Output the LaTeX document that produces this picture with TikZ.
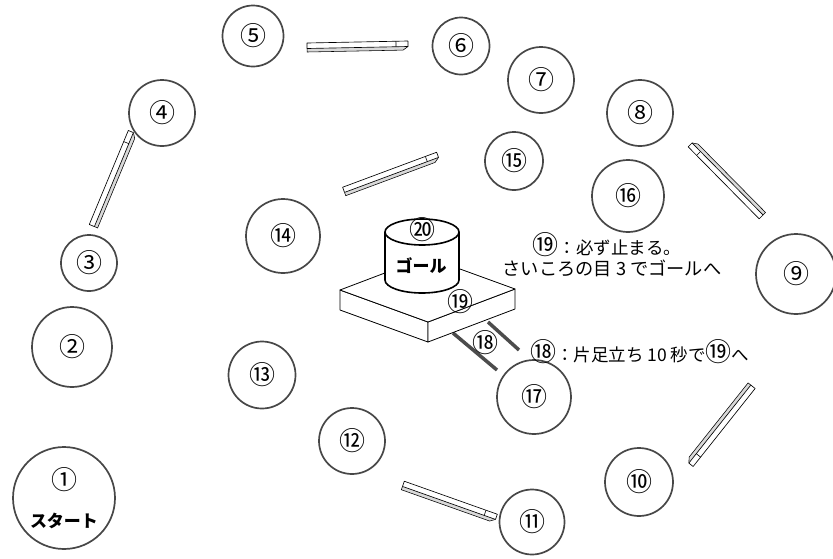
\documentclass[tikz,border=0pt]{standalone}
\usepackage{fontspec}
\newfontfamily\cjk{Noto Sans CJK JP}
\usetikzlibrary{calc}
\newcommand\cn[1]{{\fontsize{26}{26}\selectfont #1}}
\tikzset{
  circ/.style={circle, draw=black!72, line width=1.7pt, inner sep=0pt, font=\cjk\fontsize{26}{26}\selectfont},
  lbl/.style={font=\cjk\fontsize{17.5}{19}\selectfont, inner sep=0pt},
  edge/.style={line width=0.8pt, black},
  gbar/.style={line width=3.5pt, black!70},
}
\newcommand\beam[2]{%
  \coordinate (bA) at #1; \coordinate (bB) at #2;
  \coordinate (p1) at ($(bA)!4pt!90:(bB)$);
  \coordinate (p2) at ($(bA)!1.5pt!-90:(bB)$);
  \coordinate (p3) at ($(bA)!5pt!-90:(bB)$);
  \coordinate (q1) at ($(bB)!4pt!-90:(bA)$);
  \coordinate (q2) at ($(bB)!1.5pt!90:(bA)$);
  \coordinate (q3) at ($(bB)!5pt!90:(bA)$);
  \fill[black!15] (p2) -- (q2) -- ($(q3)!5pt!(p3)$) -- (p3) -- cycle;
  \draw[line width=0.55pt] (p2) -- (p3) -- ($(q3)!5pt!(p3)$) -- (q2);
  \draw[line width=0.65pt, fill=white, line join=round] (p1) -- (q1) -- (q2) -- (p2) -- cycle;
  \draw[line width=0.6pt] ($(q1)!12pt!(p1)$) -- ($(q2)!12pt!(p2)$);
}
\begin{document}
\begin{tikzpicture}[x=1pt, y=-1pt]
\useasboundingbox (0,0) rectangle (833,558);
\fill[white] (0,0) rectangle (833,558);

% circles
\node[circ, minimum size=102pt] (c1) at (64,498) {};
\node[font=\cjk\fontsize{26}{26}\selectfont, inner sep=0pt] (n1) at (64,480) {①};
\node[font=\cjk\bfseries\fontsize{17}{17}\selectfont] (s1) at (64,521) {スタート};
\node[circ, minimum size=80pt] (c2) at (72,347) {②};
\node[circ, minimum size=56pt] (c3) at (89,263) {③};
\node[circ, minimum size=66pt] (c4) at (162,113) {④};
\node[circ, minimum size=61pt] (c5) at (253,36) {⑤};
\node[circ, minimum size=57pt] (c6) at (461,46) {⑥};
\node[circ, minimum size=66pt] (c7) at (541,80) {⑦};
\node[circ, minimum size=66pt] (c8) at (640,113) {⑧};
\node[circ, minimum size=80pt] (c9) at (796,274) {⑨};
\node[circ, minimum size=68pt] (c10) at (639,482) {⑩};
\node[circ, minimum size=65pt] (c11) at (532,522) {⑪};
\node[circ, minimum size=66pt] (c12) at (352,441) {⑫};
\node[circ, minimum size=67pt] (c13) at (262,375) {⑬};
\node[circ, minimum size=74pt] (c14) at (283,236) {⑭};
\node[circ, minimum size=58pt] (c15) at (514,161) {⑮};
\node[circ, minimum size=72pt] (c16) at (628,196) {⑯};
\node[circ, minimum size=74pt] (c17) at (534,397) {⑰};

% beams
\beam{(307,47)}{(408,45)}
\beam{(93,226)}{(132,132)}
\beam{(762,216)}{(691,144)}
\beam{(752,386)}{(690,464)}
\beam{(403,485)}{(496,518)}
\beam{(344,191)}{(438,156)}

% 18 bars
\draw[gbar] (453,333) -- (497,370);
\draw[gbar] (488,322) -- (519,350);
\node[lbl] (n18) at (485,343) {\cn{⑱}};

% platform 19
\draw[edge, fill=white, line join=round] (340,290) -- (428,322) -- (428,342) -- (340,310) -- cycle;
\draw[edge, fill=white, line join=round] (428,322) -- (515,289) -- (515,309) -- (428,342) -- cycle;
\draw[edge, fill=white, line join=round] (340,290) -- (427,257) -- (515,289) -- (428,322) -- cycle;
\node[lbl] (n19) at (460,302) {\cn{⑲}};

% cylinder 20
\draw[line width=1.6pt, fill=white] (385,232) -- (385,280) arc[start angle=180, end angle=360, x radius=37pt, y radius=13pt] -- (459,232);
\draw[line width=1.6pt, fill=white] (422,232) ellipse[x radius=37pt, y radius=13pt];
\node[lbl] (n20) at (422,230) {\cn{⑳}};
\node[font=\cjk\bfseries\fontsize{17}{17}\selectfont] (goal) at (421,266) {ゴール};

% texts
\node[lbl] (t19a) at (607,245) {\cn{⑲}：必ず止まる。};
\node[lbl, font=\cjk\fontsize{18.2}{19}\selectfont] (t19b) at (612,268) {さいころの目 3 でゴールへ};
\node[lbl, anchor=west] (t18) at (530,352) {\cn{⑱}：片足立ち 10 秒で\cn{⑲}へ};
\end{tikzpicture}
\end{document}
